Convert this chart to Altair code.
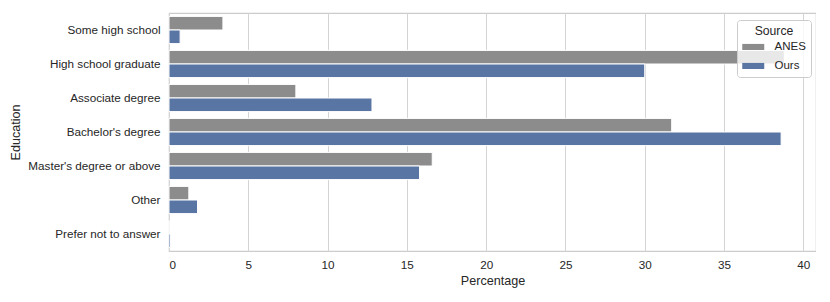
import altair as alt
import pandas as pd

categories = [
    "Some high school",
    "High school graduate",
    "Associate degree",
    "Bachelor's degree",
    "Master's degree or above",
    "Other",
    "Prefer not to answer",
]
sources = ["ANES", "Ours"]
anes_values = [3.4, 38.8, 8.0, 31.7, 16.6, 1.25, 0.0]
ours_values = [0.7, 30.0, 12.8, 38.6, 15.8, 1.8, 0.1]
x_ticks = [0, 5, 10, 15, 20, 25, 30, 35, 40]
colors = ["#8c8c8c", "#5975a4"]

rows = []
for c, a, o in zip(categories, anes_values, ours_values):
    rows.append({"Education": c, "Source": "ANES", "Percentage": a})
    rows.append({"Education": c, "Source": "Ours", "Percentage": o})
df = pd.DataFrame(rows)

FONT = "Liberation Sans"
TXT = "#262626"

chart = (
    alt.Chart(df)
    .mark_bar(stroke="white", strokeWidth=1)
    .encode(
        x=alt.X(
            "Percentage:Q",
            scale=alt.Scale(domain=[0, 40.8], nice=False, zero=True),
            axis=alt.Axis(
                values=x_ticks,
                grid=True,
                ticks=False,
                domain=False,
                labelPadding=8,
                labelFontSize=11.7,
                title="Percentage",
                titleFontSize=12.6,
                titleFontWeight="normal",
                titleY=29,
                titleBaseline="middle",
            ),
        ),
        y=alt.Y(
            "Education:N",
            sort=categories,
            scale=alt.Scale(paddingInner=0.2, paddingOuter=0.1),
            axis=alt.Axis(
                grid=False,
                ticks=False,
                domain=False,
                labelPadding=9,
                labelFontSize=11.7,
                title="Education",
                titleFontSize=12.6,
                titleFontWeight="normal",
                titleX=-154,
                titleY=119,
                titleAngle=270,
                titleBaseline="middle",
                titleAlign="center",
            ),
        ),
        yOffset=alt.YOffset("Source:N", sort=sources),
        color=alt.Color(
            "Source:N",
            scale=alt.Scale(domain=sources, range=colors),
            legend=alt.Legend(
                title="Source",
                orient="none",
                legendX=568,
                legendY=7,
                fillColor="rgba(255,255,255,0.8)",
                strokeColor="#cccccc",
                cornerRadius=3,
                padding=5,
                titleFontSize=12.2,
                titleFontWeight="normal",
                titleAnchor="middle",
                titleAlign="center",
                titlePadding=4,
                labelFontSize=11.5,
                symbolType="M-1,-0.55 h4 v1.1 h-4 z",
                symbolSize=121,
                symbolStrokeWidth=0,
                symbolOpacity=1,
                labelOffset=21,
                rowPadding=6,
            ),
        ),
    )
    .properties(
        width=647,
        height=238,
        padding={"left": 161, "top": 5, "right": 0, "bottom": 40},
        autosize=alt.AutoSizeParams(type="none"),
    )
    .configure(font=FONT)
    .configure_view(stroke="#cccccc", strokeWidth=1.2)
    .configure_axis(
        gridColor="#d4d4d4",
        gridWidth=1,
        labelColor=TXT,
        titleColor=TXT,
        labelFont=FONT,
        titleFont=FONT,
    )
    .configure_legend(labelColor=TXT, titleColor=TXT, labelFont=FONT, titleFont=FONT)
)

chart.save("out.html", embed_options={"renderer": "svg", "actions": False})
